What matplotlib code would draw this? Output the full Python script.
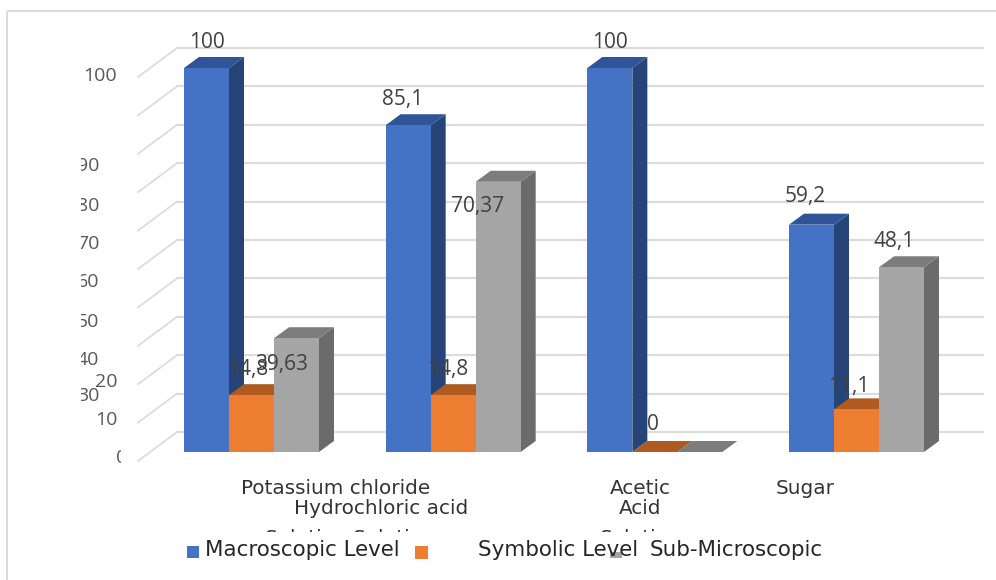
import matplotlib
matplotlib.use('Agg')
import matplotlib.pyplot as plt
from matplotlib.patches import Polygon, Rectangle
from matplotlib.transforms import Bbox

W, H = 996, 580

# values (heights of the bars and the printed labels differ once)
macroscopic = [100, 85.1, 100, 59.2]
symbolic = [14.8, 14.8, 0, 11.1]
sub_microscopic = [29.63, 70.37, 0, 48.1]

macro_labels = ['100', '85,1', '100', '59,2']
symbolic_labels = ['14,8', '14,8', '0', '11,1']
sub_labels = ['39,63', '70,37', '', '48,1']

series_names = ['Macroscopic Level', 'Symbolic Level', 'Sub-Microscopic']
y_ticks = [0, 10, 20, 30, 40, 50, 60, 70, 80, 90, 100]

front = ['#4472c4', '#ed7d31', '#a5a5a5']
side = ['#264478', '#9e480e', '#6b6b6b']
top = ['#2f5597', '#ae5a21', '#7c7c7c']
text_col = '#404040'
grid_col = '#dcdcdc'

# scales: px per unit / px per group
py_unit = 3.84
px_group = 201.67
x0_px = 251.5
y0_px = 452


def xpx(v):
    return (v - x0_px) / px_group


def ypx(v):
    return (y0_px - v) / py_unit


def clip_text(t, x0=0, y0=0, x1=W, y1=H):
    t.set_clip_box(Bbox([[x0, H - y1], [x1, H - y0]]))
    t.set_clip_on(True)


def label(s, x, y, size=11, clip=None, **kw):
    kw.setdefault('color', text_col)
    kw.setdefault('ha', 'center')
    t = fig.text(x / W, 1 - y / H, s, size=size, va='center', **kw)
    if clip:
        clip_text(t, **clip)
    return t


fig = plt.figure(figsize=(W / 100, H / 100), dpi=100)
ax = fig.add_axes([0, 0, 1, 1])
ax.set_xlim(xpx(0), xpx(W))
ax.set_ylim(ypx(H), ypx(0))
ax.axis('off')

# outer frame
fig.add_artist(plt.Line2D([7 / W, 7 / W, 1], [0, 1 - 11 / H, 1 - 11 / H], color='#dcdcdc', lw=1.5))

# gridlines: back wall plus the slanted left wall
back_dy = 20 / py_unit
for v in y_ticks:
    ax.plot([xpx(177), xpx(983)], [v + back_dy, v + back_dy], color=grid_col, lw=1.6, zorder=1)
    ax.plot([xpx(138), xpx(177)], [v + back_dy - 29 / py_unit, v + back_dy], color=grid_col, lw=1.3, zorder=1)

# bars with fake depth
bar_w = 45 / px_group
dx = 15 / px_group
dy = 11 / py_unit
all_series = [macroscopic, symbolic, sub_microscopic]
z = 2
for g in range(4):
    for s, vals in enumerate(all_series):
        left = g + (s - 1.5) * bar_w
        v = vals[g]
        r = left + bar_w
        ax.add_patch(Polygon([(r, 0), (r + dx, dy), (r + dx, v + dy), (r, v)], color=side[s], lw=0, zorder=z))
        ax.add_patch(Polygon([(left, v), (left + dx, v + dy), (r + dx, v + dy), (r, v)], color=top[s], lw=0, zorder=z))
        ax.bar(left, v, bar_w, align='edge', color=front[s], zorder=z + 0.5)
        z += 1

# data labels, pushed around as in the picture
all_labels = [macro_labels, symbolic_labels, sub_labels]
offsets = [
    [(0, 26), (-6, 26), (0, 26), (-6, 28)],
    [(-4, 26), (-5, 26), (-2, 27), (-8, 23)],
    [(-15, -26), (-21, -25), (0, 0), (-7, 26)],
]
for s, vals in enumerate(all_series):
    for g, v in enumerate(vals):
        if all_labels[s][g]:
            ox, oy = offsets[s][g]
            ax.annotate(all_labels[s][g], (g + (s - 1) * bar_w, v), xytext=(ox * 0.72, oy * 0.72),
                        textcoords='offset points', ha='center', va='center', size=15,
                        family='Open Sans', color=text_col, zorder=100)

# y tick labels, most of them cut off on one side
tick_pos = {100: (100, 76), 90: (88, 166), 80: (88, 206), 70: (88, 244), 60: (88, 282),
            50: (88, 322), 40: (88, 360), 30: (88, 396), 20: (106, 382), 10: (106, 420), 0: (122, 458)}
for v in y_ticks:
    x, y = tick_pos[v]
    clip = dict(x0=81) if 30 <= v <= 90 else (dict(x1=121) if v == 0 else None)
    label(str(v), x, y, size=14, family='Open Sans', color='#595959', clip=clip)

# category labels
cat = dict(size=14.4, family='DejaVu Sans', color='#333333')
label('Potassium chloride', 336, 488, **cat)
label('Hydrochloric acid', 381, 509, **cat)
label('Solution Solution', 350, 539, clip=dict(y1=532), **cat)
label('Acetic', 640, 488, **cat)
label('Acid', 640, 509, **cat)
label('Solution', 640, 539, clip=dict(y1=532), **cat)
label('Sugar', 805, 488, **cat)
label('Solution', 805, 513, clip=dict(y1=503), **cat)

# legend
for i, (x, y, w, h) in enumerate([(187, 546, 12, 12), (415, 546, 13, 13), (610, 552, 12, 6)]):
    fig.add_artist(Rectangle((x / W, 1 - (y + h) / H), w / W, h / H, color=front[i], lw=0))
leg = dict(size=15.4, family='DejaVu Sans', color='#262626', ha='left')
label(series_names[0], 205, 550, **leg)
label(series_names[1], 478, 550, **leg)
label(series_names[2], 650, 550, **leg)

fig.savefig('out.png', dpi=100)
